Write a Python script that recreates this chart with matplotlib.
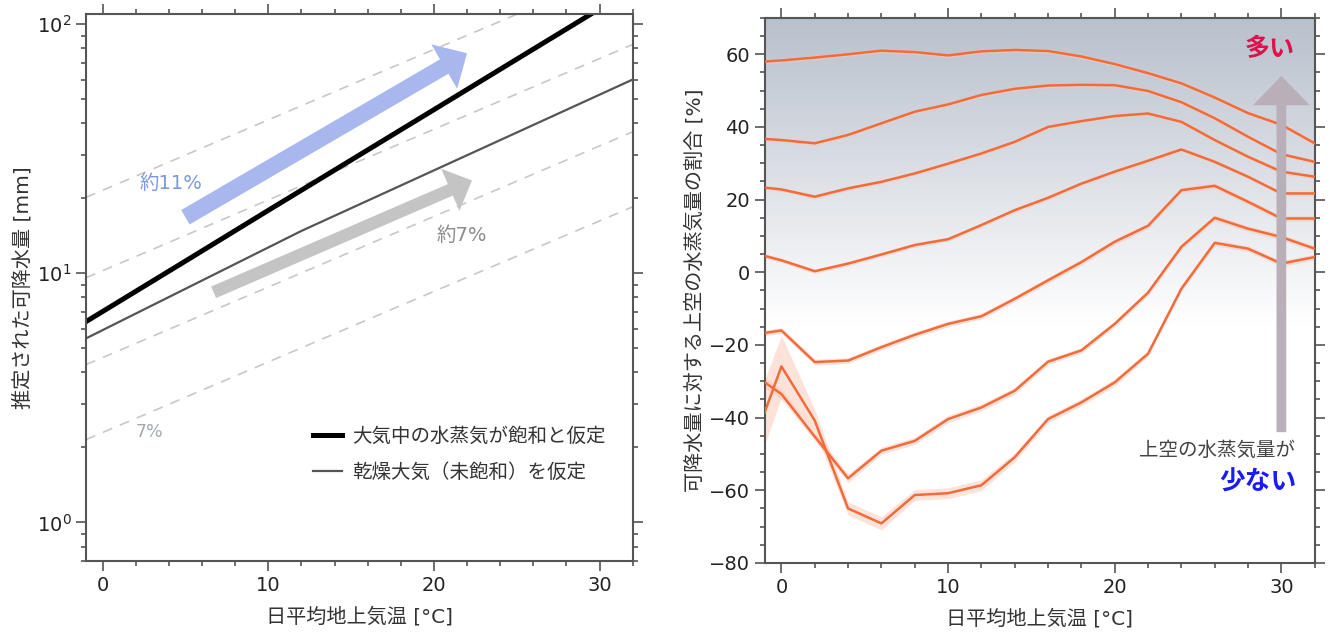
import numpy as np
import matplotlib
matplotlib.use("Agg")
import matplotlib.pyplot as plt
from matplotlib.ticker import MultipleLocator, LogLocator, NullFormatter
from matplotlib.colors import LinearSegmentedColormap

plt.rcParams['font.family'] = ['DejaVu Sans', 'Noto Sans CJK JP']

# ---- left panel data (precipitable water, mm) ----
temp_sat = [-1, 5, 10, 15, 20, 25, 32]
pw_sat = [6.4, 11.2, 17.9, 28.5, 45.4, 72.4, 139]
temp_dry = [-1, 12, 32]
pw_dry = [5.48, 14.8, 60.0]
# 7%/K reference lines (value at -1 and 32 C)
ref_start = [2.15, 4.3, 9.6, 20.2]
ref_end = [18.5, 37.0, 83.0, 173.0]
ref_t = [-1, 32]

# ---- right panel data (% of upper-level vapour) ----
temp_bins = [-1, 0, 2, 4, 6, 8, 10, 12, 14, 16, 18, 20, 22, 24, 26, 28, 30, 32]
ratio_lines = [
    [58.0, 58.3, 59.1, 60.0, 61.0, 60.6, 59.7, 60.8, 61.2, 60.9, 59.4, 57.3, 54.8, 52.0, 48.1, 43.8, 40.6, 35.5],
    [36.7, 36.4, 35.5, 37.8, 41.0, 44.2, 46.2, 48.8, 50.5, 51.4, 51.6, 51.5, 49.9, 46.8, 42.4, 37.3, 32.5, 30.4],
    [23.3, 22.8, 20.8, 23.1, 24.9, 27.2, 29.9, 32.7, 35.9, 40.0, 41.6, 43.0, 43.7, 41.4, 36.4, 31.8, 27.7, 26.3],
    [4.5, 3.3, 0.3, 2.4, 4.9, 7.5, 9.1, 13.0, 17.1, 20.5, 24.4, 27.7, 30.7, 33.8, 30.4, 26.3, 21.7, 21.7],
    [-16.7, -16.0, -24.7, -24.3, -20.6, -17.2, -14.2, -12.1, -7.3, -2.2, 2.8, 8.4, 12.8, 22.6, 23.8, 19.4, 14.8, 14.8],
    [-30.3, -33.5, -45.2, -56.7, -49.1, -46.4, -40.4, -37.2, -32.6, -24.6, -21.5, -14.2, -5.6, 7.0, 15.0, 12.0, 9.7, 6.5],
    [-38.5, -25.9, -40.8, -65.0, -69.1, -61.3, -60.8, -58.6, -50.9, -40.4, -35.8, -30.3, -22.4, -4.5, 8.1, 6.5, 2.4, 4.2],
]
# spread of the shaded band for each line
ratio_spread = [
    [0.6] * 18,
    [0.6] * 18,
    [0.6] * 18,
    [0.6] * 18,
    [0.8] * 18,
    [1.5, 1.5, 1.2, 1.2, 1.0, 1.0, 1.0, 1.0, 1.0, 0.8, 0.8, 0.8, 0.8, 0.8, 0.8, 0.8, 0.8, 0.8],
    [9.0, 8.5, 3.0, 1.8, 1.8, 1.5, 1.5, 1.5, 1.2, 1.0, 1.0, 1.0, 0.8, 0.8, 0.8, 0.8, 0.8, 0.8],
]

fig = plt.figure(figsize=(13.3, 6.36), dpi=100)
ax1 = fig.add_axes([0.0647, 0.118, 0.411, 0.860])
ax2 = fig.add_axes([0.575, 0.1148, 0.4135, 0.857])

spine_col = '#555555'

def style_axes(ax):
    for s in ax.spines.values():
        s.set_color(spine_col)
        s.set_linewidth(1.5)
    ax.tick_params(which='both', direction='out', top=True, right=True,
                   colors=spine_col, labelcolor='#222222', width=1.2)
    ax.tick_params(which='major', length=7, labelsize=14)
    ax.tick_params(which='minor', length=3.5)

# ----- left -----
for s, e in zip(ref_start, ref_end):
    ax1.plot(ref_t, [s, e], color='#c8c8c8', lw=1.2, dashes=(6, 5))
ax1.plot(temp_sat, pw_sat, color='black', lw=3.6, label='大気中の水蒸気が飽和と仮定')
ax1.plot(temp_dry, pw_dry, color='#555555', lw=1.6, label='乾燥大気（未飽和）を仮定')

ax1.annotate('', xy=(22.0, 76.5), xytext=(5.0, 16.8),
             arrowprops=dict(arrowstyle='simple,head_length=19,head_width=37,tail_width=12',
                             mutation_scale=1, color='#a8b8ef', shrinkA=0, shrinkB=0, lw=0))
ax1.annotate('', xy=(22.3, 23.6), xytext=(6.7, 8.39),
             arrowprops=dict(arrowstyle='simple,head_length=17,head_width=33,tail_width=9',
                             mutation_scale=1, color='#c4c4c4', shrinkA=0, shrinkB=0, lw=0))
ax1.text(4.1, 23, '約11%', color='#7b98e6', fontsize=14, ha='center', va='center')
ax1.text(21.7, 14.2, '約7%', color='#8c8c8c', fontsize=14, ha='center', va='center')
ax1.text(2.85, 2.3, '7%', color='#a0aab0', fontsize=12.5, ha='center', va='center')

ax1.set_yscale('log')
ax1.set_xlim(-1, 32)
ax1.set_ylim(0.7, 110)
ax1.xaxis.set_major_locator(MultipleLocator(10))
ax1.xaxis.set_minor_locator(MultipleLocator(2))
ax1.yaxis.set_major_locator(LogLocator(base=10, numticks=10))
ax1.yaxis.set_minor_locator(LogLocator(base=10, subs=np.arange(2, 10), numticks=20))
ax1.yaxis.set_minor_formatter(NullFormatter())
style_axes(ax1)
ax1.set_xlabel('日平均地上気温 [°C]', fontsize=14.5, color='#333333', labelpad=9)
ax1.set_ylabel('推定された可降水量 [mm]', fontsize=14.5, color='#333333', labelpad=3)
ax1.legend(loc='upper left', bbox_to_anchor=(0.415, 0.245), frameon=False, fontsize=14,
           handlelength=1.5, handletextpad=0.5, labelspacing=0.85,
           borderpad=0, borderaxespad=0, labelcolor='#333333')

# ----- right -----
cmap = LinearSegmentedColormap.from_list('bg', ['#ffffff', '#b8c0cc'])
yy = np.linspace(70, -80, 300)
grad = np.clip((yy + 15) / 85.0, 0, 1).reshape(-1, 1)
ax2.imshow(grad, extent=[-1, 32, -80, 70], aspect='auto', cmap=cmap,
           vmin=0, vmax=1, origin='upper', zorder=0)

orange = '#f26b3a'
for vals, spr in zip(ratio_lines, ratio_spread):
    v = np.array(vals)
    sp = np.array(spr)
    ax2.fill_between(temp_bins, v - sp, v + sp, color='#f9c9b6', alpha=0.5, lw=0, zorder=2)
    ax2.plot(temp_bins, v, color=orange, lw=1.8, zorder=3)

ax2.annotate('', xy=(30, 54), xytext=(30, -44),
             arrowprops=dict(arrowstyle='simple,head_length=21,head_width=41,tail_width=7',
                             mutation_scale=1, color='#b8afb8', shrinkA=0, shrinkB=0, lw=0),
             zorder=4)
ax2.text(29.3, 61.5, '多い', color='#e0104a', fontsize=18, fontweight='bold',
         ha='center', va='center', zorder=5)
ax2.text(30.8, -49, '上空の水蒸気量が', color='#444444', fontsize=14,
         ha='right', va='center', zorder=5)
ax2.text(30.9, -58, '少ない', color='#1a1aff', fontsize=18.5, fontweight='bold',
         ha='right', va='center', zorder=5)

ax2.set_xlim(-1, 32)
ax2.set_ylim(-80, 70)
ax2.xaxis.set_major_locator(MultipleLocator(10))
ax2.xaxis.set_minor_locator(MultipleLocator(2))
ax2.yaxis.set_major_locator(MultipleLocator(20))
ax2.yaxis.set_minor_locator(MultipleLocator(5))
style_axes(ax2)
ax2.set_xlabel('日平均地上気温 [°C]', fontsize=14.5, color='#333333', labelpad=9)
ax2.set_ylabel('可降水量に対する上空の水蒸気量の割合 [%]', fontsize=14.5, color='#333333', labelpad=3)

fig.savefig('out.png', dpi=100)
